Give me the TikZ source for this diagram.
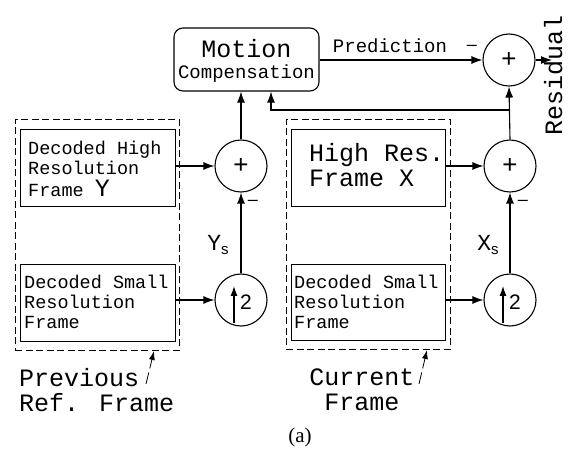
\documentclass[tikz,border=0pt]{standalone}
\usepackage{fontspec}
\setmainfont{Liberation Serif}
\newfontfamily\cour{Liberation Mono}
\newfontfamily\helv{Liberation Sans}
\usetikzlibrary{arrows.meta}
\tikzset{
  line/.style={line width=1.1pt},
  arr/.style={line width=1.1pt,-{Latex[length=11pt,width=8pt]}},
  framebox/.style={draw,line width=1.1pt,anchor=north west,inner sep=0pt},
  groupbox/.style={draw,line width=0.9pt,dash pattern=on 7pt off 3.5pt,anchor=north west,inner sep=0pt},
  sumnode/.style={draw,circle,line width=1.1pt,minimum size=52pt,inner sep=0pt,font=\cour\fontsize{26}{26}\selectfont},
  upnode/.style={draw,circle,line width=1.1pt,minimum size=52pt,inner sep=0pt},
  smalltxt/.style={anchor=west,align=left,inner sep=0pt,font=\cour\fontsize{18.5}{20}\selectfont},
  bigtxt/.style={inner sep=0pt,font=\cour\fontsize{25}{25}\selectfont},
  minus/.style={inner sep=0pt,font=\helv\fontsize{18}{18}\selectfont},
  leader/.style={line width=0.8pt,dash pattern=on 12pt off 4pt,-{Latex[length=9pt,width=6pt]}},
}
\begin{document}
\begin{tikzpicture}[x=1pt,y=-1pt]
\useasboundingbox (0,0) rectangle (568,449);

% motion compensation block
\node[draw,line width=1.1pt,rounded corners=9pt,minimum width=145pt,minimum height=63pt,inner sep=0pt] (mc) at (246.5,59.5) {};
\node[bigtxt] (mct) at (246.5,49) {Motion};
\node[inner sep=0pt,font=\cour\fontsize{19}{19}\selectfont] (mcb) at (246.5,74) {Compensation};

% previous reference frame group
\node[groupbox,minimum width=164pt,minimum height=231pt] (gL) at (15,119) {};
\node[framebox,minimum width=155pt,minimum height=77pt] (hiL) at (20,129) {};
\node[smalltxt] (hiLt) at (28,169) {Decoded High\\Resolution\\[2pt]Frame {\fontsize{25}{20}\selectfont Y}};
\node[framebox,minimum width=155pt,minimum height=77pt] (loL) at (20,264) {};
\node[smalltxt] (loLt) at (24,302) {Decoded Small\\Resolution\\Frame};

% current frame group
\node[groupbox,minimum width=164pt,minimum height=230pt] (gR) at (286,119) {};
\node[framebox,minimum width=154pt,minimum height=77pt] (hiR) at (291,129) {};
\node[anchor=west,align=left,inner sep=0pt,font=\cour\fontsize{25}{25}\selectfont] (hiRt) at (309,165) {High Res.\\Frame X};
\node[framebox,minimum width=154pt,minimum height=76pt] (loR) at (291,264) {};
\node[smalltxt] (loRt) at (294,302) {Decoded Small\\Resolution\\Frame};

% adders and upsamplers
\node[sumnode] (sL) at (241,166) {+};
\node[upnode] (uL) at (241,300) {};
\node[sumnode] (sR) at (510,166) {+};
\node[upnode] (uR) at (510,300) {};
\node[sumnode] (sT) at (509,60) {+};

\foreach \u in {uL,uR}{
  \draw[line width=1.1pt,-{Latex[length=10pt,width=7pt]}] ([xshift=-7pt,yshift=-23pt]\u.center) -- ([xshift=-7pt,yshift=14pt]\u.center);
  \node[inner sep=0pt,font=\helv\fontsize{21}{21}\selectfont] at ([xshift=5pt,yshift=-2pt]\u.center) {2};
}

% connections
\draw[arr] (hiL.east |- sL.west) -- (sL.west);
\draw[arr] (loL.east |- uL.west) -- (uL.west);
\draw[arr] (uL.north) -- (sL.south);
\draw[arr] (sL.north) -- (sL.north |- mc.south);

\draw[arr] (hiR.east |- sR.west) -- (sR.west);
\draw[arr] (loR.east |- uR.west) -- (uR.west);
\draw[arr] (uR.north) -- (sR.south);
\draw[arr] (sR.north) -- (sT.south);

\coordinate (fb) at (271,110);
\draw[arr] (sR.north |- fb) -- (fb) -- (fb |- mc.south);

\draw[arr] (mc.east |- sT.west) -- (sT.west);
\coordinate (resEnd) at (552,60);
\draw[arr] (sT.east) -- (resEnd);

% signal labels
\node[inner sep=0pt,font=\cour\fontsize{19}{19}\selectfont] (pred) at (390,46) {Prediction};
\node[minus] (mT) at (472,48) {–};
\node[minus] (mL) at (253,203) {–};
\node[minus] (mR) at (523,203) {–};
\node[inner sep=0pt] (ys) at (218,245) {{\cour\fontsize{23}{23}\selectfont Y}{\helv\fontsize{15}{15}\selectfont\raisebox{-4pt}{s}}};
\node[inner sep=0pt] (xs) at (488,245) {{\cour\fontsize{23}{23}\selectfont X}{\helv\fontsize{15}{15}\selectfont\raisebox{-4pt}{s}}};
\node[inner sep=0pt,rotate=90,font=\cour\fontsize{25}{25}\selectfont,anchor=base] (res) at (562,75) {Residual};

% group captions
\node[anchor=west,align=left,inner sep=0pt,font=\cour\fontsize{25}{25}\selectfont] (capL) at (19,390) {Previous\\Ref. Frame};
\node[align=center,inner sep=0pt,font=\cour\fontsize{25}{25}\selectfont] (capR) at (362,390) {Current\\Frame};
\coordinate (lcL) at (146,384);
\coordinate (lcR) at (419,384);
\draw[leader] (lcL) -- (154,351);
\draw[leader] (lcR) -- (427,350);

\node[inner sep=0pt,font=\fontsize{21}{21}\selectfont] (cap) at (300,437) {(a)};
\end{tikzpicture}
\end{document}
